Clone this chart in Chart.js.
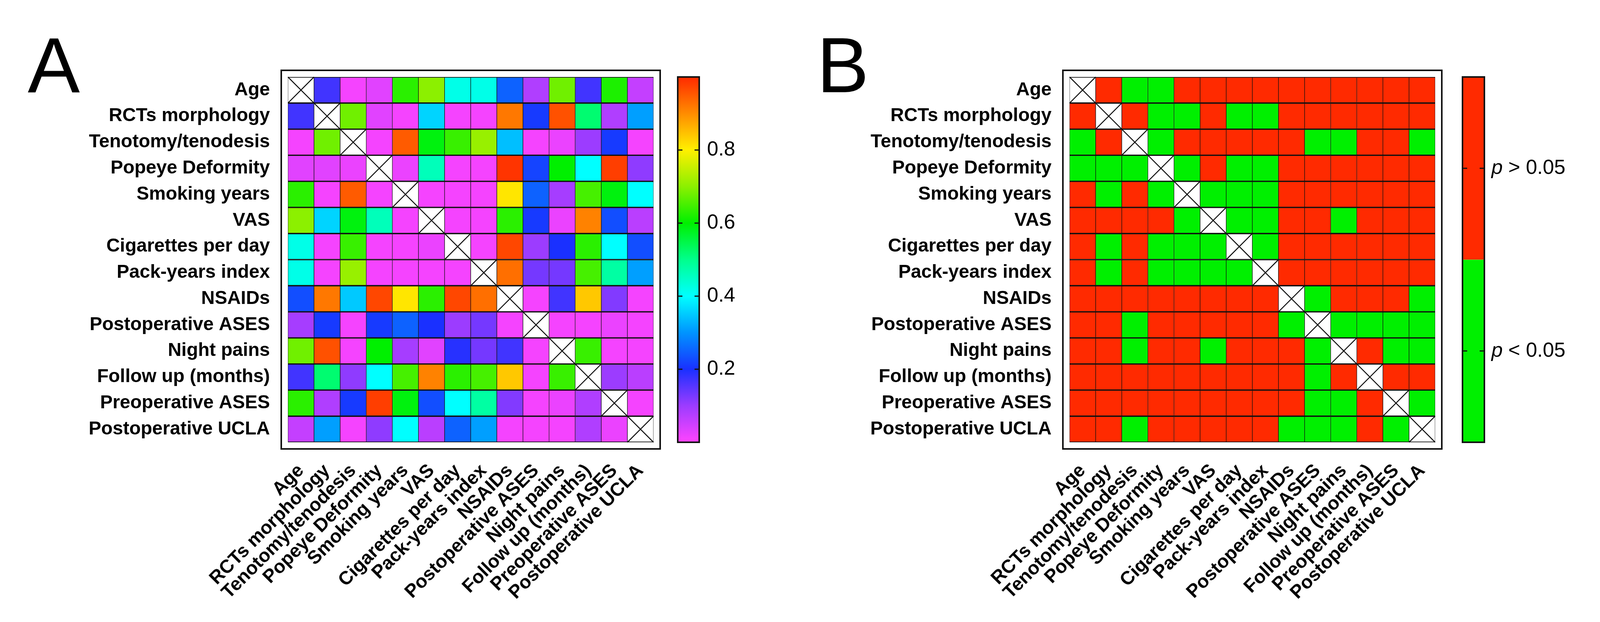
<!DOCTYPE html>
<html>
<head>
<meta charset="utf-8">
<script src="https://cdn.jsdelivr.net/npm/chart.js@4.4.1/dist/chart.umd.min.js"></script>
<style>
  html, body { margin: 0; padding: 0; background: #fff; }
  #wrap { position: relative; width: 4104px; height: 1592px; }
  canvas { position: absolute; top: 0; }
  #panelA { left: 0; }
  #panelB { left: 2052px; }
</style>
</head>
<body>
<div id="wrap">
  <canvas id="panelA" width="2052" height="1592"></canvas>
  <canvas id="panelB" width="2052" height="1592"></canvas>
</div>
<script>
// variables, same order on both axes
var labels = ['Age', 'RCTs morphology', 'Tenotomy/tenodesis', 'Popeye Deformity', 'Smoking years', 'VAS',
  'Cigarettes per day', 'Pack-years index', 'NSAIDs', 'Postoperative ASES', 'Night pains',
  'Follow up (months)', 'Preoperative ASES', 'Postoperative UCLA'];

var pAge      = [null, 0.17, 0.01, 0.03, 0.63, 0.70, 0.42, 0.42, 0.25, 0.08, 0.68, 0.17, 0.62, 0.06];
var pRCTs     = [0.17, null, 0.68, 0.03, 0.01, 0.36, 0.01, 0.01, 0.92, 0.21, 0.96, 0.52, 0.08, 0.31];
var pTeno     = [0.01, 0.68, null, 0.01, 0.95, 0.59, 0.64, 0.71, 0.34, 0.01, 0.02, 0.10, 0.21, 0.01];
var pPopeye   = [0.03, 0.03, 0.02, null, 0.02, 0.46, 0.01, 0.01, 0.99, 0.22, 0.60, 0.40, 0.98, 0.11];
var pSmoking  = [0.63, 0.01, 0.95, 0.01, null, 0.01, 0.01, 0.01, 0.81, 0.25, 0.09, 0.65, 0.59, 0.40];
var pVAS      = [0.70, 0.36, 0.59, 0.46, 0.01, null, 0.01, 0.01, 0.63, 0.21, 0.02, 0.91, 0.23, 0.07];
var pCigs     = [0.42, 0.01, 0.64, 0.01, 0.01, 0.02, null, 0.01, 0.97, 0.10, 0.20, 0.63, 0.40, 0.23];
var pPack     = [0.42, 0.01, 0.71, 0.01, 0.01, 0.01, 0.01, null, 0.93, 0.13, 0.13, 0.65, 0.48, 0.31];
var pNSAIDs   = [0.23, 0.92, 0.35, 0.97, 0.81, 0.63, 0.97, 0.93, null, 0.01, 0.17, 0.84, 0.12, 0.01];
var pPostASES = [0.09, 0.21, 0.01, 0.21, 0.25, 0.20, 0.10, 0.13, 0.01, null, 0.01, 0.01, 0.02, 0.01];
var pNight    = [0.68, 0.96, 0.01, 0.60, 0.09, 0.03, 0.19, 0.13, 0.17, 0.01, null, 0.64, 0.01, 0.01];
var pFollow   = [0.17, 0.52, 0.11, 0.40, 0.65, 0.91, 0.63, 0.65, 0.84, 0.01, 0.64, null, 0.10, 0.07];
var pPreASES  = [0.63, 0.08, 0.21, 0.98, 0.59, 0.23, 0.40, 0.48, 0.12, 0.01, 0.02, 0.08, null, 0.01];
var pUCLA     = [0.06, 0.31, 0.01, 0.11, 0.40, 0.07, 0.25, 0.31, 0.01, 0.01, 0.01, 0.08, 0.02, null];
var colorbarTicks = [0.2, 0.4, 0.6, 0.8];

// panel B: 1 = p < 0.05, 0 = p > 0.05
var sAge      = [null, 0, 1, 1, 0, 0, 0, 0, 0, 0, 0, 0, 0, 0];
var sRCTs     = [0, null, 0, 1, 1, 0, 1, 1, 0, 0, 0, 0, 0, 0];
var sTeno     = [1, 0, null, 1, 0, 0, 0, 0, 0, 1, 1, 0, 0, 1];
var sPopeye   = [1, 1, 1, null, 1, 0, 1, 1, 0, 0, 0, 0, 0, 0];
var sSmoking  = [0, 1, 0, 1, null, 1, 1, 1, 0, 0, 0, 0, 0, 0];
var sVAS      = [0, 0, 0, 0, 1, null, 1, 1, 0, 0, 1, 0, 0, 0];
var sCigs     = [0, 1, 0, 1, 1, 1, null, 1, 0, 0, 0, 0, 0, 0];
var sPack     = [0, 1, 0, 1, 1, 1, 1, null, 0, 0, 0, 0, 0, 0];
var sNSAIDs   = [0, 0, 0, 0, 0, 0, 0, 0, null, 1, 0, 0, 0, 1];
var sPostASES = [0, 0, 1, 0, 0, 0, 0, 0, 1, null, 1, 1, 1, 1];
var sNight    = [0, 0, 1, 0, 0, 1, 0, 0, 0, 1, null, 0, 1, 1];
var sFollow   = [0, 0, 0, 0, 0, 0, 0, 0, 0, 1, 0, null, 0, 0];
var sPreASES  = [0, 0, 0, 0, 0, 0, 0, 0, 0, 1, 1, 0, null, 1];
var sUCLA     = [0, 0, 1, 0, 0, 0, 0, 0, 1, 1, 1, 0, 1, null];
var legendTicks = [0.25, 0.75];
var legendLabels = ['p < 0.05', 'p > 0.05'];

var rowsA = [pAge, pRCTs, pTeno, pPopeye, pSmoking, pVAS, pCigs, pPack, pNSAIDs, pPostASES, pNight, pFollow, pPreASES, pUCLA];
var rowsB = [sAge, sRCTs, sTeno, sPopeye, sSmoking, sVAS, sCigs, sPack, sNSAIDs, sPostASES, sNight, sFollow, sPreASES, sUCLA];

var FONT = '"Liberation Sans", Arial, sans-serif';
var RED = '#ff2a00', GREEN = '#00f000';

// rainbow map used by panel A (0 magenta -> 1 red)
var stops = [[0, '#ff44ff'], [0.1, '#9c3cff'], [0.2, '#1a30ff'], [0.3, '#0094ff'], [0.4, '#00ffff'],
  [0.5, '#00ff8c'], [0.6, '#00f000'], [0.7, '#8cf000'], [0.8, '#fff000'], [0.9, '#ff8c00'], [1, '#ff2a00']];

function rgb(h) {
  return [parseInt(h.slice(1, 3), 16), parseInt(h.slice(3, 5), 16), parseInt(h.slice(5, 7), 16)];
}
function rainbow(v) {
  for (var k = 1; k < stops.length; k++) {
    if (v <= stops[k][0]) {
      var t = (v - stops[k - 1][0]) / (stops[k][0] - stops[k - 1][0]);
      var a = rgb(stops[k - 1][1]), b = rgb(stops[k][1]);
      return 'rgb(' + [0, 1, 2].map(function (c) { return Math.round(a[c] + (b[c] - a[c]) * t); }).join(',') + ')';
    }
  }
  return stops[stops.length - 1][1];
}

// frame, crossed diagonal, colour bar and panel letter
var decor = {
  id: 'decor',
  afterDraw: function (chart, args, o) {
    var ctx = chart.ctx, a = chart.chartArea, cb = chart.scales.cb;
    ctx.save();
    ctx.strokeStyle = '#111';
    ctx.lineWidth = 2.5;
    chart.data.datasets.forEach(function (ds, i) {
      var p = chart.getDatasetMeta(i).data[i].getProps(['x', 'y', 'base', 'width'], true);
      var l = p.x - p.width / 2, r = p.x + p.width / 2;
      ctx.beginPath();
      ctx.moveTo(l, p.y); ctx.lineTo(r, p.base);
      ctx.moveTo(r, p.y); ctx.lineTo(l, p.base);
      ctx.stroke();
    });

    ctx.lineWidth = 4;
    ctx.strokeRect(a.left - 17, a.top - 17, a.width + 34, a.height + 34);

    var x0 = a.right + o.barFrom, x1 = a.right + o.barTo;
    var yt = cb.getPixelForValue(1), yb = cb.getPixelForValue(0);
    if (o.mode === 'gradient') {
      var g = ctx.createLinearGradient(0, yb, 0, yt);
      stops.forEach(function (s) { g.addColorStop(s[0], s[1]); });
      ctx.fillStyle = g;
      ctx.fillRect(x0, yt, x1 - x0, yb - yt);
    } else {
      var ym = cb.getPixelForValue(0.5);
      ctx.fillStyle = GREEN; ctx.fillRect(x0, ym, x1 - x0, yb - ym);
      ctx.fillStyle = RED; ctx.fillRect(x0, yt, x1 - x0, ym - yt);
    }
    ctx.lineWidth = 4;
    ctx.strokeRect(x0, yt, x1 - x0, yb - yt);
    ctx.lineWidth = 3;
    cb.ticks.forEach(function (t, k) {
      var y = cb.getPixelForValue(t.value);
      ctx.beginPath();
      ctx.moveTo(x0, y); ctx.lineTo(x0 + 12, y);
      ctx.moveTo(x1 - 12, y); ctx.lineTo(x1, y);
      ctx.stroke();
      if (o.mode !== 'gradient') {
        var txt = legendLabels[k], x = a.right + o.labelAt;
        ctx.fillStyle = '#000';
        ctx.textBaseline = 'middle';
        ctx.font = 'italic 52px ' + FONT;
        ctx.fillText(txt.charAt(0), x, y);
        x += ctx.measureText(txt.charAt(0)).width;
        ctx.font = '52px ' + FONT;
        ctx.fillText(txt.slice(1), x, y);
      }
    });

    ctx.fillStyle = '#000';
    ctx.textBaseline = 'alphabetic';
    ctx.font = '200px ' + FONT;
    ctx.fillText(o.letter, o.letterX, 236);
    ctx.restore();
  }
};

function heatmap(id, rows, colorOf, geo) {
  var datasets = rows.map(function (row, i) {
    return {
      data: row.map(function () { return [i, i + 1]; }),
      backgroundColor: row.map(function (v) { return v === null ? '#ffffff' : colorOf(v); }),
      borderColor: '#111',
      borderWidth: { top: 2, bottom: 2, left: 1, right: 1 },
      borderSkipped: false,
      grouped: false,
      barPercentage: 1,
      categoryPercentage: 1
    };
  });
  return new Chart(id, {
    type: 'bar',
    data: { labels: labels, datasets: datasets },
    plugins: [decor],
    options: {
      responsive: false,
      animation: false,
      devicePixelRatio: 1,
      layout: { padding: { top: 197, left: 0, right: 0, bottom: 0 } },
      plugins: {
        legend: { display: false },
        tooltip: { enabled: false },
        decor: geo.decor
      },
      scales: {
        x: {
          grid: { display: false, drawTicks: false },
          border: { display: false },
          ticks: {
            autoSkip: false, minRotation: 45, maxRotation: 45, padding: 45,
            color: '#000', font: { family: FONT, size: 48, weight: 'bold' }
          },
          afterFit: function (s) { s.height = 460; }
        },
        y: {
          type: 'linear', min: 0, max: 14, reverse: true,
          grid: { display: false, drawTicks: false },
          border: { display: false },
          afterBuildTicks: function (s) { s.ticks = labels.map(function (l, i) { return { value: i + 0.5 }; }); },
          ticks: {
            autoSkip: false, padding: 46, color: '#000',
            font: { family: FONT, size: 48, weight: 'bold' },
            callback: function (v, i) { return labels[i]; }
          },
          afterFit: function (s) { s.width = geo.left; }
        },
        cb: {
          type: 'linear', position: 'right', min: 0, max: 1,
          grid: { display: false, drawTicks: false },
          border: { display: false },
          afterBuildTicks: function (s) { s.ticks = geo.ticks.map(function (v) { return { value: v }; }); },
          ticks: {
            display: geo.showTicks, padding: geo.tickPad, color: '#000',
            font: { family: FONT, size: 52 },
            callback: function (v) { return v.toFixed(1); }
          },
          afterFit: function (s) { s.width = 2052 - geo.left - 936; }
        }
      }
    }
  });
}

heatmap('panelA', rowsA, rainbow, {
  left: 737, ticks: colorbarTicks, showTicks: true, tickPad: 137,
  decor: { mode: 'gradient', barFrom: 62, barTo: 117, labelAt: 137, letter: 'A', letterX: 71 }
});

heatmap('panelB', rowsB, function (v) { return v ? GREEN : RED; }, {
  left: 686, ticks: legendTicks, showTicks: false, tickPad: 144,
  decor: { mode: 'split', barFrom: 70, barTo: 126, labelAt: 144, letter: 'B', letterX: 39 }
});
</script>
</body>
</html>
